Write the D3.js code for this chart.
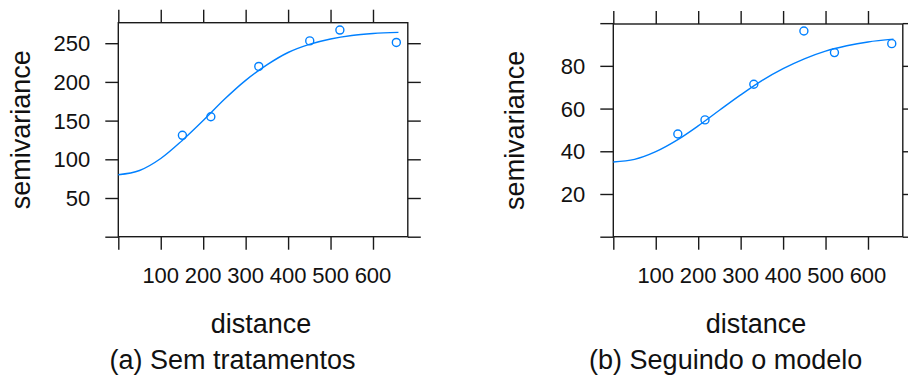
<!DOCTYPE html>
<html lang="en">
<head>
<meta charset="utf-8">
<title>Semivariogramas</title>
<script src="https://d3js.org/d3.v7.min.js"></script>
<style>
  body { margin: 0; background: #fff; }
  text { font-family: "Liberation Sans", Arial, sans-serif; fill: #111; }
</style>
</head>
<body>
<svg id="chart" width="908" height="379"></svg>
<script>
// empirical semivariogram points, panel (a)
const distA = [151, 218, 331, 451, 522, 655];
const gammaA = [131, 155, 220, 253, 267, 251];
// fitted model line, panel (a)
const lineDistA = [0, 50, 100, 150, 200, 250, 300, 350, 400, 450, 500, 550, 600, 660];
const lineGammaA = [80, 85.5, 101, 124, 150, 177.5, 202, 222, 238, 248.5, 255.5, 260, 262.5, 264];

// panel (b)
const distB = [152, 216, 331, 449, 521, 656];
const gammaB = [48.1, 54.7, 71.4, 96.3, 86.2, 90.4];
const lineDistB = [0, 50, 100, 150, 200, 250, 300, 350, 400, 450, 500, 550, 600, 660];
const lineGammaB = [35, 36.2, 39.8, 45.2, 51.9, 59.2, 66.4, 73.1, 78.7, 83.3, 86.9, 89.4, 91.2, 92.5];

const xTicks = [0, 100, 200, 300, 400, 500, 600];
const xTickLabels = [100, 200, 300, 400, 500, 600];
const yTicksA = [0, 50, 100, 150, 200, 250];
const yTickLabelsA = [50, 100, 150, 200, 250];
const yTicksB = [0, 20, 40, 60, 80, 100];
const yTickLabelsB = [20, 40, 60, 80];

const captions = ["(a) Sem tratamentos", "(b) Seguindo o modelo"];

const svg = d3.select("#chart");
const blue = "#0080ff";
const tickLen = 13;

function panel(opt) {
  const x = d3.scaleLinear().domain([0, 682]).range([opt.left, opt.left + 289.5]);
  const y = d3.scaleLinear().domain([0, opt.yMax]).range([236.7, opt.top]);
  const g = svg.append("g");

  // axes: ticks on all four sides, labels on left/bottom
  const bottom = d3.axisBottom(x).tickValues(xTicks).tickSize(tickLen).tickFormat("");
  const top = d3.axisTop(x).tickValues(xTicks).tickSize(tickLen).tickFormat("");
  const left = d3.axisLeft(y).tickValues(opt.yTicks).tickSize(tickLen).tickFormat("");
  const right = d3.axisRight(y).tickValues(opt.yTicks).tickSize(tickLen).tickFormat("");
  [[bottom, "translate(0," + y(0) + ")"], [top, "translate(0," + opt.top + ")"],
   [left, "translate(" + x(0) + ",0)"], [right, "translate(" + x(682) + ",0)"]]
    .forEach(function (a) {
      const ax = g.append("g").attr("transform", a[1]).call(a[0]);
      ax.select(".domain").remove();
      ax.selectAll("line").attr("stroke", "#1a1a1a").attr("stroke-width", 1.4);
    });

  g.append("rect")
    .attr("x", x(0)).attr("y", opt.top)
    .attr("width", x(682) - x(0)).attr("height", y(0) - opt.top)
    .attr("fill", "none").attr("stroke", "#1a1a1a").attr("stroke-width", 1.4);

  // tick labels
  g.selectAll(".xl").data(xTickLabels).enter().append("text")
    .attr("x", d => x(d)).attr("y", 283)
    .attr("text-anchor", "middle").attr("font-size", "22px").text(d => d);
  g.selectAll(".yl").data(opt.yLabels).enter().append("text")
    .attr("x", x(0) - tickLen - 15).attr("y", d => y(d) + 8)
    .attr("text-anchor", "end").attr("font-size", "22px").text(d => d);

  // model line
  const line = d3.line().x(d => x(d[0])).y(d => y(d[1])).curve(d3.curveMonotoneX);
  g.append("path")
    .datum(d3.zip(opt.lineDist, opt.lineGamma))
    .attr("d", line)
    .attr("fill", "none").attr("stroke", blue).attr("stroke-width", 1.4);

  // empirical points
  g.selectAll("circle").data(d3.zip(opt.dist, opt.gamma)).enter().append("circle")
    .attr("cx", d => x(d[0])).attr("cy", d => y(d[1])).attr("r", 4)
    .attr("fill", "none").attr("stroke", blue).attr("stroke-width", 1.4);

  // axis titles
  g.append("text")
    .attr("transform", "translate(" + opt.yTitleX + "," + ((opt.top + 236.7) / 2) + ") rotate(-90)")
    .attr("text-anchor", "middle").attr("font-size", "27px").text("semivariance");
  g.append("text")
    .attr("x", (x(0) + x(682)) / 2 - 2).attr("y", 333)
    .attr("text-anchor", "middle").attr("font-size", "27px").text("distance");
  g.append("text")
    .attr("x", opt.captionX).attr("y", 369)
    .attr("text-anchor", "middle").attr("font-size", "27px").text(opt.caption);
}

panel({
  left: 118.3, top: 22.7, yMax: 276.5,
  yTicks: yTicksA, yLabels: yTickLabelsA,
  dist: distA, gamma: gammaA, lineDist: lineDistA, lineGamma: lineGammaA,
  yTitleX: 30, captionX: 232.5, caption: captions[0]
});
panel({
  left: 613.3, top: 24, yMax: 99.6,
  yTicks: yTicksB, yLabels: yTickLabelsB,
  dist: distB, gamma: gammaB, lineDist: lineDistB, lineGamma: lineGammaB,
  yTitleX: 524, captionX: 725.7, caption: captions[1]
});
</script>
</body>
</html>
